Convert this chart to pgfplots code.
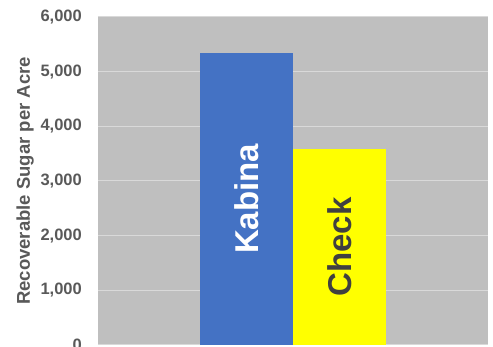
\documentclass[border=0pt]{standalone}
\usepackage{fontspec}
\setmainfont{Liberation Sans}
\usepackage{pgfplots}
\pgfplotsset{compat=1.18}

\definecolor{plotbg}{HTML}{BFBFBF}
\definecolor{gridc}{HTML}{D9D9D9}
\definecolor{kabina}{HTML}{4472C4}
\definecolor{check}{HTML}{FFFF00}
\definecolor{labelc}{HTML}{595959}
\definecolor{darktext}{HTML}{404040}

\begin{document}
\begin{tikzpicture}
\begin{axis}[
  scale only axis,
  width=390pt, height=328pt,
  xmin=-1.597, xmax=2.597,
  ymin=0, ymax=6000,
  ytick={0,1000,...,6000},
  xtick=\empty,
  ymajorgrids,
  grid style={gridc, line width=1pt},
  axis line style={draw=none},
  major tick length=0pt,
  axis background/.style={fill=plotbg},
  /pgf/number format/assume math mode=true,
  /pgf/number format/.cd, fixed, 1000 sep={,},
  /pgfplots/.cd,
  yticklabel style={font=\fontsize{16.5}{18}\selectfont\bfseries, text=labelc, inner sep=0pt, xshift=-16pt},
  every axis y label/.style={at={(axis description cs:-0.187,0.5)}, rotate=90, anchor=center},
  ylabel={Recoverable Sugar per Acre},
  ylabel style={font=\fontsize{18.5}{20}\selectfont\bfseries, text=labelc},
  clip=false,
]
% Recoverable sugar per acre for the two entries
\addplot[ybar, bar width=93pt, bar shift=0pt, fill=kabina, draw=none] coordinates {(0,5347)};
\addplot[ybar, bar width=93pt, bar shift=0pt, fill=check, draw=none] coordinates {(1,3585)};
\node[rotate=90, font=\fontsize{33}{36}\selectfont\bfseries, text=white] at (axis cs:0,2673) {Kabina};
\node[rotate=90, font=\fontsize{33}{36}\selectfont\bfseries, text=darktext] at (axis cs:1,1792) {Check};
\end{axis}
\pgfresetboundingbox
\path (-98pt,-2pt) rectangle (395pt,345pt);
\end{tikzpicture}
\end{document}
